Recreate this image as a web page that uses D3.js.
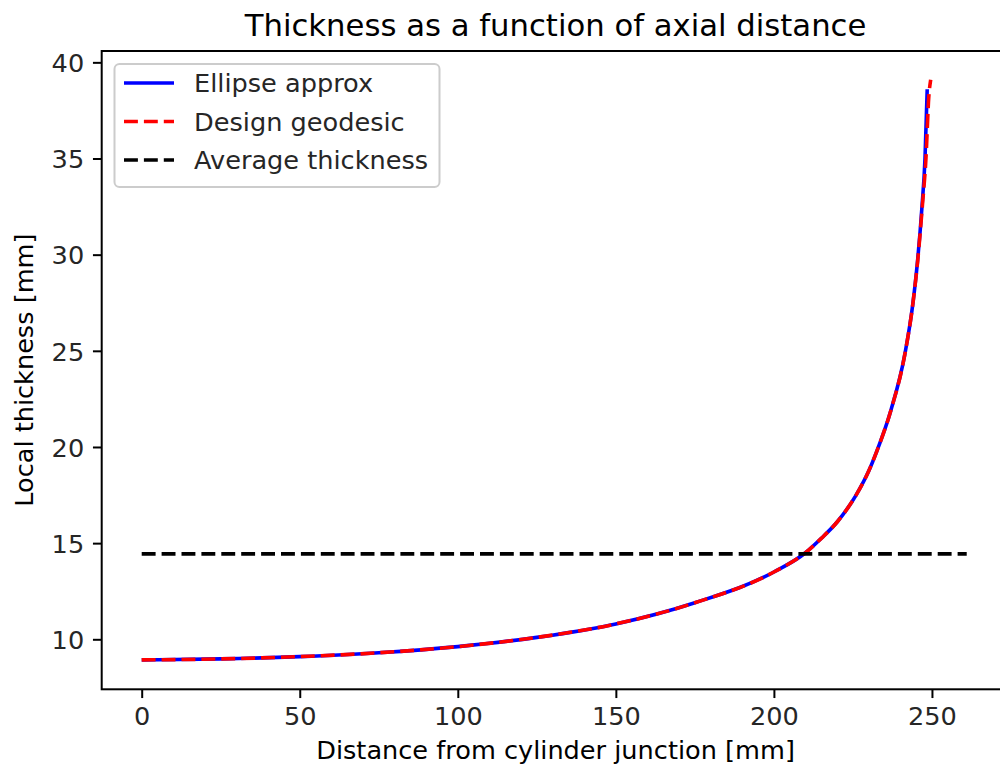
<!DOCTYPE html>
<html>
<head>
<meta charset="utf-8">
<script src="https://cdn.jsdelivr.net/npm/d3@7"></script>
<style>
  html, body { margin: 0; padding: 0; background: #fff; }
  svg { display: block; font-family: "DejaVu Sans", sans-serif; }
</style>
</head>
<body>
<svg id="chart" width="1000" height="769"></svg>
<script>
// ---- data ----
const ellipseX = [0, 25, 50, 75, 100, 125, 150, 175, 200, 210, 215, 220, 226, 230, 232.6, 237, 241.4, 244, 245.4, 246.8, 247.8, 248.5];
const ellipseT = [8.93, 8.98, 9.1, 9.3, 9.62, 10.1, 10.8, 11.9, 13.5, 14.5, 15.25, 16.1, 17.5, 18.75, 19.8, 21.9, 24.8, 27.5, 29.6, 32.4, 35, 38.6];
const geodesicX = [0, 25, 50, 75, 100, 125, 150, 175, 200, 210, 215, 220, 226, 230, 232.6, 237, 241.4, 244, 245.5, 247.0, 248.1, 249.0, 249.6];
const geodesicT = [8.93, 8.98, 9.1, 9.3, 9.62, 10.1, 10.8, 11.9, 13.5, 14.5, 15.25, 16.1, 17.5, 18.75, 19.8, 21.9, 24.8, 27.5, 29.7, 32.6, 35, 38.2, 39.1];
const averageX = [0, 261];
const averageT = [14.44, 14.44];
const xTicks = [0, 50, 100, 150, 200, 250];
const yTicks = [10, 15, 20, 25, 30, 35, 40];
const legendLabels = ["Ellipse approx", "Design geodesic", "Average thickness"];
const titleText = "Thickness as a function of axial distance";
const xLabel = "Distance from cylinder junction [mm]";
const yLabel = "Local thickness [mm]";

(function () {
const mLeft = 101.7, mTop = 51, mBottom = 689.3;
const pxPerX = 3.161;
const x0px = 141.7;
const xDomain = [-(x0px - mLeft) / pxPerX, 274.5];
const mRight = x0px + xDomain[1] * pxPerX;

const svg = d3.select("#chart");
const x = d3.scaleLinear().domain(xDomain).range([mLeft, mRight]);
const y = d3.scaleLinear().domain([7.40, 40.59]).range([mBottom, mTop]);

const lw = 3.6;
const dash = "13.9,6";
const fs = 25.6;

svg.append("clipPath").attr("id", "clip")
  .append("rect").attr("x", mLeft).attr("y", mTop).attr("width", mRight - mLeft).attr("height", mBottom - mTop);

const plot = svg.append("g").attr("clip-path", "url(#clip)");
const line = d3.line().x(d => x(d[0])).y(d => y(d[1])).curve(d3.curveMonotoneX);

const ell = ellipseX.map((v, i) => [v, ellipseT[i]]);
const geo = geodesicX.map((v, i) => [v, geodesicT[i]]);
const avg = averageX.map((v, i) => [v, averageT[i]]);

plot.append("path").datum(ell).attr("d", line)
  .attr("fill", "none").attr("stroke", "#0000ff").attr("stroke-width", lw);
plot.append("path").datum(geo).attr("d", line)
  .attr("fill", "none").attr("stroke", "#ff0000").attr("stroke-width", lw)
  .attr("stroke-dasharray", dash);
plot.append("path").datum(avg).attr("d", d3.line().x(d => x(d[0])).y(d => y(d[1])))
  .attr("fill", "none").attr("stroke", "#000000").attr("stroke-width", lw)
  .attr("stroke-dasharray", dash);

const xAxis = d3.axisBottom(x).tickValues(xTicks).tickSize(8.75).tickPadding(8.75).tickFormat(d3.format("d"));
const yAxis = d3.axisLeft(y).tickValues(yTicks).tickSize(8.75).tickPadding(8.75).tickFormat(d3.format("d"));

const gx = svg.append("g").attr("transform", `translate(0,${mBottom})`).call(xAxis);
const gy = svg.append("g").attr("transform", `translate(${mLeft},0)`).call(yAxis);
[gx, gy].forEach(g => {
  g.select(".domain").remove();
  g.selectAll(".tick line").attr("stroke", "#000").attr("stroke-width", 2);
  g.selectAll(".tick text").attr("fill", "#262626").attr("font-size", fs)
    .attr("font-family", "DejaVu Sans, sans-serif");
});
gx.selectAll(".tick text").attr("dy", "0.72em");
gy.selectAll(".tick text").attr("dy", "0.36em");

svg.append("rect").attr("x", mLeft).attr("y", mTop).attr("width", mRight - mLeft).attr("height", mBottom - mTop)
  .attr("fill", "none").attr("stroke", "#000").attr("stroke-width", 2);

svg.append("text").attr("x", (mLeft + mRight) / 2).attr("y", 36).attr("text-anchor", "middle")
  .attr("font-size", 30.7).attr("fill", "#000").text(titleText);
svg.append("text").attr("x", (mLeft + mRight) / 2).attr("y", 759).attr("text-anchor", "middle")
  .attr("font-size", fs).attr("fill", "#000").text(xLabel);
svg.append("text").attr("transform", `translate(33,${(mTop + mBottom) / 2}) rotate(-90)`)
  .attr("text-anchor", "middle").attr("font-size", fs).attr("fill", "#000").text(yLabel);

const lg = svg.append("g");
lg.append("rect").attr("x", 114.5).attr("y", 64).attr("width", 325).attr("height", 123)
  .attr("rx", 5).attr("fill", "#ffffff").attr("fill-opacity", 0.8)
  .attr("stroke", "#cccccc").attr("stroke-width", 2);
const legColors = ["#0000ff", "#ff0000", "#000000"];
const legDash = [null, dash, dash];
const rowY = [83, 121.5, 160];
legendLabels.forEach((lab, i) => {
  const l = lg.append("line").attr("x1", 124).attr("x2", 174).attr("y1", rowY[i]).attr("y2", rowY[i])
    .attr("stroke", legColors[i]).attr("stroke-width", lw);
  if (legDash[i]) l.attr("stroke-dasharray", legDash[i]);
  lg.append("text").attr("x", 194).attr("y", rowY[i] + 9).attr("font-size", fs).attr("fill", "#262626").text(lab);
});
})();
</script>
</body>
</html>
